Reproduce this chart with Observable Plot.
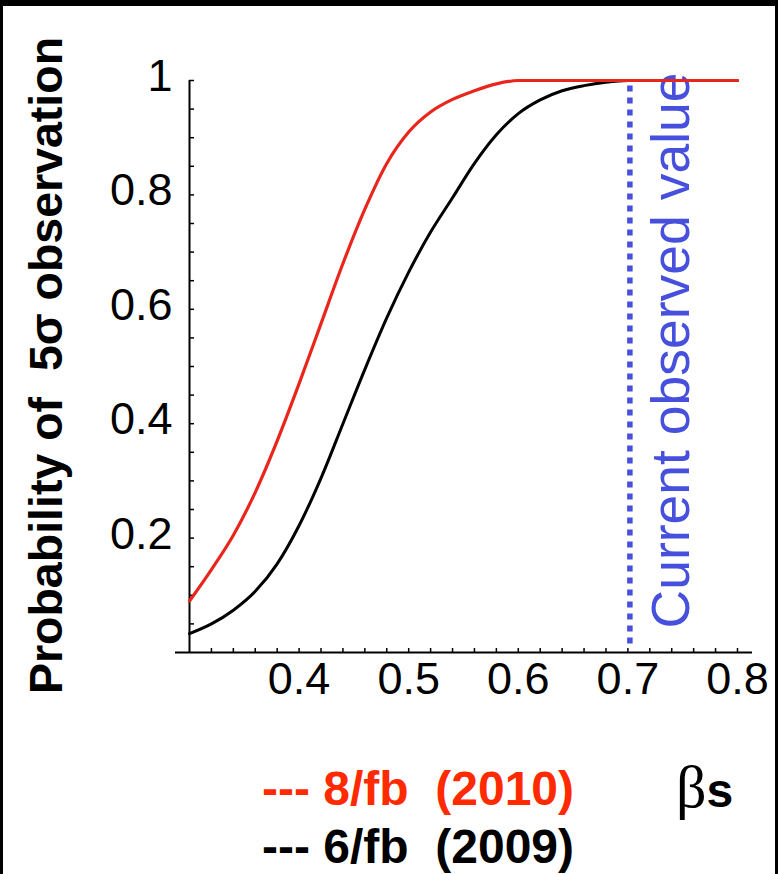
<!DOCTYPE html>
<html>
<head>
<meta charset="utf-8">
<script src="https://cdn.jsdelivr.net/npm/d3@7"></script>
<script src="https://cdn.jsdelivr.net/npm/@observablehq/plot@0.6"></script>
<style>
  html, body { margin: 0; padding: 0; background: #fff; }
  #wrap { position: relative; width: 778px; height: 874px; overflow: hidden; font-family: "Liberation Sans", Arial, sans-serif; }
  #wrap svg { position: absolute; left: 0; top: 0; }
  #frame { position: absolute; left: 0; top: 0; width: 778px; height: 874px; box-sizing: border-box;
           border-top: 6px solid #000; border-left: 3px solid #000; border-right: 3px solid #000; pointer-events: none; }
  .leg { position: absolute; font-size: 48px; font-weight: bold; line-height: 48px; white-space: pre; }
  #beta { position: absolute; left: 676px; top: 757px; line-height: 60px; white-space: pre; }
  #beta .b { font-family: "Liberation Serif", "DejaVu Serif", serif; font-size: 60px; }
  #beta .s { font-family: "Liberation Sans", Arial, sans-serif; font-size: 48px; font-weight: bold; }
</style>
</head>
<body>
<div id="wrap"></div>
<script>
// ---- data ----
const betaS = [0.30, 0.32, 0.34, 0.36, 0.38, 0.40, 0.42, 0.44, 0.46, 0.48, 0.50, 0.52, 0.54, 0.56, 0.58, 0.60, 0.62, 0.64, 0.66, 0.68, 0.70, 0.72, 0.74, 0.76, 0.78, 0.80];
const prob2010 = [0.090, 0.145, 0.205, 0.280, 0.370, 0.470, 0.575, 0.680, 0.775, 0.855, 0.910, 0.945, 0.967, 0.982, 0.994, 1.0, 1.0, 1.0, 1.0, 1.0, 1.0, 1.0, 1.0, 1.0, 1.0, 1.0];
const prob2009 = [0.033, 0.050, 0.074, 0.107, 0.155, 0.222, 0.305, 0.400, 0.495, 0.585, 0.665, 0.735, 0.795, 0.855, 0.905, 0.942, 0.966, 0.982, 0.991, 0.997, 1.0, 1.0, 1.0, 1.0, 1.0, 1.0];
const observedValue = 0.70;
const xTickLabels = [0.4, 0.5, 0.6, 0.7, 0.8];
const xMinorTicks = [0.32, 0.34, 0.36, 0.38, 0.40, 0.42, 0.44, 0.46, 0.48, 0.50, 0.52, 0.54, 0.56, 0.58, 0.60, 0.62, 0.64, 0.66, 0.68, 0.70, 0.72, 0.74, 0.76, 0.78, 0.80];
const yTickLabels = [0.2, 0.4, 0.6, 0.8, 1];
const yMinorTicks = [0.05, 0.10, 0.15, 0.20, 0.25, 0.30, 0.35, 0.40, 0.45, 0.50, 0.55, 0.60, 0.65, 0.70, 0.75, 0.80, 0.85, 0.90, 0.95, 1.0];
const yTitle = "Probability of  5σ observation";
const observedLabel = "Current observed value";
const legendLabels = ["--- 8/fb  (2010)", "--- 6/fb  (2009)"];
const legendColors = ["#ff2a00", "#000000"];
const xAxisLabel = ["β", "s"];

const s2010 = betaS.map((x, i) => ({x, y: prob2010[i]}));
const s2009 = betaS.map((x, i) => ({x, y: prob2009[i]}));

const W = 778, H = 874;
const mL = 189, mR = 26, mT = 80, mB = 222;
const frameW = W - mL - mR, frameH = H - mT - mB;
const blue = "#4650dc";

const chart = Plot.plot({
  width: W, height: H,
  marginLeft: mL, marginRight: mR, marginTop: mT, marginBottom: mB,
  style: {fontFamily: "Liberation Sans, Arial, sans-serif", background: "transparent", color: "#000"},
  x: {domain: [0.3, 0.8137]},
  y: {domain: [0, 1]},
  marks: [
    // axes lines
    Plot.ruleY([0], {stroke: "#000", strokeWidth: 2, insetLeft: -14}),
    Plot.ruleX([0.3], {stroke: "#000", strokeWidth: 2}),
    // ticks (inside)
    Plot.tickX(xMinorTicks, {x: d => d, stroke: "#000", strokeWidth: 1.5, insetTop: frameH - 4}),
    Plot.tickY(yMinorTicks, {y: d => d, stroke: "#000", strokeWidth: 1.5, insetRight: frameW - 5}),
    Plot.axisX({ticks: xTickLabels, tickSize: 0, tickPadding: 10, fontSize: 45, tickFormat: d => d.toFixed(1), label: null}),
    Plot.axisY({ticks: yTickLabels, tickSize: 0, tickPadding: 17, fontSize: 45, dy: -4, tickFormat: d => d === 1 ? "1" : d.toFixed(1), label: null}),
    // observed value
    Plot.ruleX([observedValue], {stroke: blue, strokeWidth: 5.5, strokeDasharray: "6,6", y1: 0.015, y2: 0.995, dx: 2}),
    Plot.text([observedLabel], {x: () => observedValue, frameAnchor: "bottom", rotate: -90, textAnchor: "start", lineAnchor: "bottom",
      dx: 61, dy: -24, fill: blue, fontSize: 53.5}),
    // curves
    Plot.line(s2009, {x: "x", y: "y", stroke: "#000", strokeWidth: 3, curve: "monotone-x"}),
    Plot.line(s2010, {x: "x", y: "y", stroke: "#e8261c", strokeWidth: 3.2, curve: "monotone-x"}),
    // y title
    Plot.text([yTitle], {frameAnchor: "left", rotate: -90, textAnchor: "middle", lineAnchor: "bottom",
      dx: 61 - mL, dy: -1, fontSize: 46.5, fontWeight: "bold", fill: "#000"})
  ]
});

const wrap = document.getElementById("wrap");
wrap.appendChild(chart);

legendLabels.forEach((t, i) => {
  const d = document.createElement("div");
  d.className = "leg";
  d.textContent = t;
  d.style.color = legendColors[i];
  d.style.left = "262px";
  d.style.top = (765 + i * 58) + "px";
  wrap.appendChild(d);
});
const b = document.createElement("div");
b.id = "beta";
b.innerHTML = `<span class="b">${xAxisLabel[0]}</span><span class="s">${xAxisLabel[1]}</span>`;
wrap.appendChild(b);

const f = document.createElement("div");
f.id = "frame";
wrap.appendChild(f);
</script>
</body>
</html>
